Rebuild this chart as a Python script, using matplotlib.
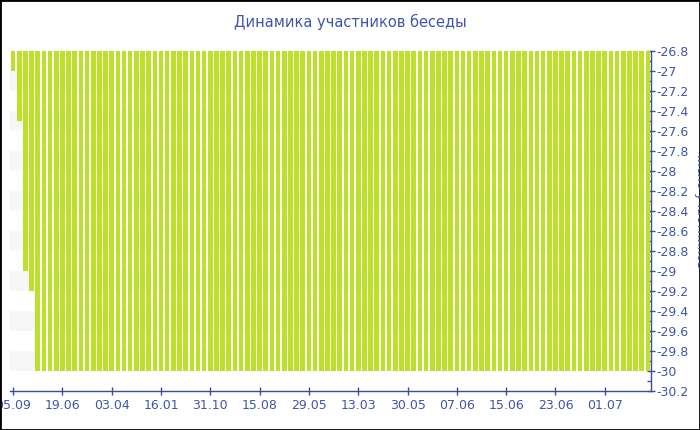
import matplotlib
matplotlib.use("Agg")
import matplotlib.pyplot as plt
from matplotlib.patches import Rectangle
from matplotlib.ticker import MultipleLocator

# chart data
title = "Динамика участников беседы"
y_label = "Число участников"
tick_labels = ["05.09", "19.06", "03.04", "16.01", "31.10", "15.08", "29.05",
               "13.03", "30.05", "07.06", "15.06", "23.06", "01.07"]
tick_every = 8
values = [-27.0, -27.5, -29.0, -29.2, -30.0, -30.0, -30.0, -30.0, -30.0, -30.0,
          -30.0, -30.0, -30.0, -30.0, -30.0, -30.0, -30.0, -30.0, -30.0, -30.0,
          -30.0, -30.0, -30.0, -30.0, -30.0, -30.0, -30.0, -30.0, -30.0, -30.0,
          -30.0, -30.0, -30.0, -30.0, -30.0, -30.0, -30.0, -30.0, -30.0, -30.0,
          -30.0, -30.0, -30.0, -30.0, -30.0, -30.0, -30.0, -30.0, -30.0, -30.0,
          -30.0, -30.0, -30.0, -30.0, -30.0, -30.0, -30.0, -30.0, -30.0, -30.0,
          -30.0, -30.0, -30.0, -30.0, -30.0, -30.0, -30.0, -30.0, -30.0, -30.0,
          -30.0, -30.0, -30.0, -30.0, -30.0, -30.0, -30.0, -30.0, -30.0, -30.0,
          -30.0, -30.0, -30.0, -30.0, -30.0, -30.0, -30.0, -30.0, -30.0, -30.0,
          -30.0, -30.0, -30.0, -30.0, -30.0, -30.0, -30.0, -30.0, -30.0, -30.0,
          -30.0, -30.0, -30.0, -30.0]

text_col = "#3f56a6"
axis_col = "#3a4f94"
bar_col = "#bee02b"

fig = plt.figure(figsize=(7, 4.3), dpi=100)
ax = fig.add_axes([10 / 700, 39 / 430, 641 / 700, 340 / 430])

ymin, ymax = -30.2, -26.8
# alternating light bands
lo = -27.2
while lo > ymin - 0.01:
    ax.axhspan(lo, lo + 0.2, color="#f7f7f7", zorder=0, lw=0)
    lo -= 0.4

x = list(range(len(values)))
ax.bar(x, values, width=0.75, color=bar_col, zorder=2)

ax.set_xlim(-0.5, len(values) - 0.5)
ax.set_ylim(ymin, ymax)

ax.set_xticks([i * tick_every for i in range(len(tick_labels))])
ax.set_xticklabels(tick_labels)

ax.yaxis.tick_right()
ax.yaxis.set_minor_locator(MultipleLocator(0.1))
ax.set_yticks([round(ymin + 0.2 * i, 1) for i in range(18)])
ax.set_yticklabels(["%g" % round(ymin + 0.2 * i, 1) for i in range(18)])

for side in ["left", "top"]:
    ax.spines[side].set_visible(False)
for side in ["right", "bottom"]:
    ax.spines[side].set_color(axis_col)
    ax.spines[side].set_linewidth(1)

ax.tick_params(axis="both", which="major", direction="inout", length=6,
               color=axis_col, labelcolor=text_col, labelsize=9, width=1)
ax.tick_params(axis="y", which="major", pad=1)
ax.tick_params(axis="y", which="minor", direction="in", length=3,
               color=axis_col, width=1)
ax.tick_params(axis="x", which="major", pad=3)

fig.text(0.5, 1 - 22 / 430, title, ha="center", va="center",
         color=text_col, fontsize=10.5)
fig.text(700 / 700, 221 / 430, y_label, ha="center", va="center",
         rotation=270, color=text_col, fontsize=9)

fig.patches.append(Rectangle((0, 0), 1, 1, transform=fig.transFigure,
                             fill=False, edgecolor="black", lw=2))

fig.savefig("out.png", dpi=100)
